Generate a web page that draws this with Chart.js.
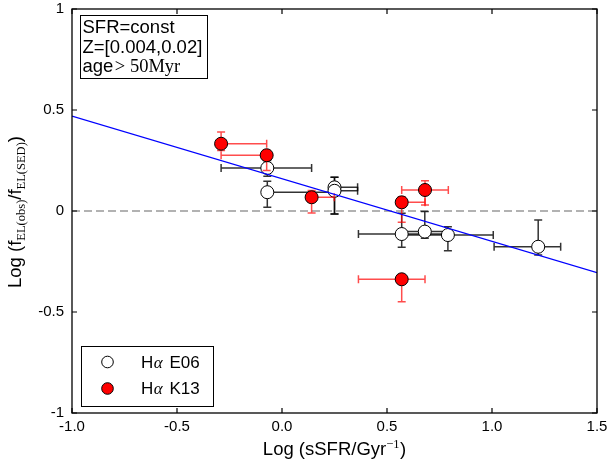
<!DOCTYPE html>
<html><head><meta charset="utf-8">
<script src="https://cdn.jsdelivr.net/npm/chart.js@4"></script>
<style>html,body{margin:0;padding:0;background:#fff}#wrap{width:609px;height:466px;position:relative}</style>
</head><body><div id="wrap"><canvas id="c"></canvas></div>
<script>
// Hα E06 (open circles)
const e06X   = [-0.07, -0.07, 0.25, 0.25, 0.57, 0.68, 0.79, 1.22];
const e06Y   = [0.213, 0.093, 0.117, 0.100, -0.114, -0.102, -0.119, -0.177];
const e06XLo = [-0.29, -0.07, 0.25, 0.25, 0.364, 0.57, 0.57, 1.01];
const e06XHi = [0.141, 0.25, 0.36, 0.36, 0.79, 0.79, 1.006, 1.327];
const e06YLo = [0.172, 0.018, -0.015, -0.015, -0.180, -0.135, -0.197, -0.218];
const e06YHi = [0.25, 0.147, 0.167, 0.167, -0.011, -0.003, -0.078, -0.045];
// Hα K13 (red filled circles)
const k13X   = [-0.29, -0.073, 0.141, 0.57, 0.681, 0.57];
const k13Y   = [0.333, 0.276, 0.068, 0.043, 0.104, -0.338];
const k13XLo = [-0.29, -0.29, 0.141, 0.57, 0.57, 0.364];
const k13XHi = [-0.073, -0.073, 0.249, 0.681, 0.792, 0.681];
const k13YLo = [0.30, 0.200, -0.010, -0.056, 0.030, -0.449];
const k13YHi = [0.391, 0.30, 0.102, 0.07, 0.150, -0.338];
// linear fit and reference line
const fitX  = [-1.0, 1.5];
const fitY  = [0.47, -0.305];
const zeroX = [-1.0, 1.5];
const zeroY = [0, 0];
// ticks
const xTickVals = [-1.0, -0.5, 0.0, 0.5, 1.0, 1.5];
const xTickLabels = ['-1.0', '-0.5', '0.0', '0.5', '1.0', '1.5'];
const yTickVals = [-1, -0.5, 0, 0.5, 1];
const yTickLabels = ['-1', '-0.5', '0', '0.5', '1'];
const boxLines = ['SFR=const', 'Z=[0.004,0.02]'];
const legendLabels = ['E06', 'K13'];

const SANS = "'Liberation Sans', Arial, sans-serif";
const SERIF = "'Liberation Serif', 'Times New Roman', serif";

function pts(xs, ys) { return xs.map((x, i) => ({x: x, y: ys[i]})); }

const errSets = [
  {xs: e06X, ys: e06Y, xlo: e06XLo, xhi: e06XHi, ylo: e06YLo, yhi: e06YHi, color: 'rgba(0,0,0,0.8)'},
  {xs: k13X, ys: k13Y, xlo: k13XLo, xhi: k13XHi, ylo: k13YLo, yhi: k13YHi, color: 'rgba(255,0,0,0.7)'}
];

function drawRuns(ctx, runs, x, y, align) {
  let total = 0;
  runs.forEach(r => { ctx.font = r.font; r.w = ctx.measureText(r.t).width; total += r.w + (r.gap || 0); });
  let cx = align === 'center' ? x - total / 2 : x;
  ctx.textBaseline = 'alphabetic';
  ctx.textAlign = 'left';
  runs.forEach(r => {
    ctx.font = r.font;
    ctx.fillText(r.t, cx, y + (r.dy || 0));
    cx += r.w + (r.gap || 0);
  });
}

const errPlugin = {
  id: 'errbars',
  beforeDatasetDraw(chart, args) {
    const ds = chart.data.datasets[args.index];
    if (ds.errIndex === undefined) return;
    const s = errSets[ds.errIndex];
    const xs = chart.scales.x, ys = chart.scales.y;
    const ctx = chart.ctx;
    ctx.save();
    ctx.strokeStyle = s.color;
    ctx.lineWidth = 1.5;
    const cap = 4;
    for (let i = 0; i < s.xs.length; i++) {
      const px = xs.getPixelForValue(s.xs[i]);
      const py = ys.getPixelForValue(s.ys[i]);
      const x0 = xs.getPixelForValue(s.xlo[i]);
      const x1 = xs.getPixelForValue(s.xhi[i]);
      const y0 = ys.getPixelForValue(s.ylo[i]);
      const y1 = ys.getPixelForValue(s.yhi[i]);
      ctx.beginPath();
      ctx.moveTo(x0, py); ctx.lineTo(x1, py);
      ctx.moveTo(px, y0); ctx.lineTo(px, y1);
      if (Math.abs(x0 - px) > 0.5) { ctx.moveTo(x0, py - cap); ctx.lineTo(x0, py + cap); }
      if (Math.abs(x1 - px) > 0.5) { ctx.moveTo(x1, py - cap); ctx.lineTo(x1, py + cap); }
      if (Math.abs(y0 - py) > 0.5) { ctx.moveTo(px - cap, y0); ctx.lineTo(px + cap, y0); }
      if (Math.abs(y1 - py) > 0.5) { ctx.moveTo(px - cap, y1); ctx.lineTo(px + cap, y1); }
      ctx.stroke();
    }
    ctx.restore();
  }
};

const decoPlugin = {
  id: 'deco',
  afterDraw(chart) {
    const ctx = chart.ctx;
    const a = chart.chartArea;
    const xs = chart.scales.x, ys = chart.scales.y;
    ctx.save();
    // frame
    ctx.strokeStyle = '#000';
    ctx.lineWidth = 1.3;
    ctx.strokeRect(a.left, a.top, a.right - a.left, a.bottom - a.top);
    // inward ticks
    ctx.lineWidth = 1.2;
    ctx.beginPath();
    xTickVals.forEach(v => {
      const p = xs.getPixelForValue(v);
      ctx.moveTo(p, a.bottom); ctx.lineTo(p, a.bottom - 5);
      ctx.moveTo(p, a.top); ctx.lineTo(p, a.top + 5);
    });
    yTickVals.forEach(v => {
      const p = ys.getPixelForValue(v);
      ctx.moveTo(a.left, p); ctx.lineTo(a.left + 5, p);
      ctx.moveTo(a.right, p); ctx.lineTo(a.right - 5, p);
    });
    ctx.stroke();

    ctx.fillStyle = '#000';
    // annotation box
    const bx = a.left + 8, by = a.top + 6;
    ctx.fillStyle = '#fff';
    ctx.fillRect(bx, by, 127, 63);
    ctx.strokeStyle = '#000';
    ctx.lineWidth = 1;
    ctx.strokeRect(bx + 0.5, by + 0.5, 127, 63);
    ctx.fillStyle = '#000';
    drawRuns(ctx, [{t: boxLines[0], font: '18.5px ' + SANS}], bx + 2.5, by + 17.5, 'left');
    drawRuns(ctx, [{t: boxLines[1], font: '18.5px ' + SANS}], bx + 2.5, by + 37.5, 'left');
    drawRuns(ctx, [{t: 'age', font: '18.5px ' + SANS, gap: 1.5}, {t: '> 50Myr', font: '18.5px ' + SERIF}], bx + 2.5, by + 56.5, 'left');

    // legend
    const lx = a.left + 9, ly = a.bottom - 67;
    ctx.fillStyle = '#fff';
    ctx.fillRect(lx, ly, 132, 60);
    ctx.strokeRect(lx + 0.5, ly + 0.5, 132, 60);
    const rows = [{fill: '#fff', y: ly + 16}, {fill: '#ff0000', y: ly + 42.5}];
    rows.forEach((r, i) => {
      ctx.beginPath();
      ctx.arc(lx + 26.5, r.y, 5.8, 0, Math.PI * 2);
      ctx.fillStyle = r.fill;
      ctx.fill();
      ctx.strokeStyle = '#000';
      ctx.lineWidth = 1;
      ctx.stroke();
      ctx.fillStyle = '#000';
      drawRuns(ctx, [
        {t: 'H', font: '17px ' + SANS, gap: 0.5},
        {t: 'α', font: 'italic 17px ' + SERIF, gap: 2},
        {t: ' ' + legendLabels[i], font: '17px ' + SANS}
      ], lx + 60, r.y + 5.8, 'left');
    });

    // x axis title
    drawRuns(ctx, [
      {t: 'Log (sSFR/Gyr', font: '18.5px ' + SANS},
      {t: '−1', font: '12.5px ' + SERIF, dy: -7.5, gap: 0.5},
      {t: ')', font: '18.5px ' + SANS}
    ], (a.left + a.right) / 2, 455, 'center');

    // y axis title
    ctx.translate(21, (a.top + a.bottom) / 2 + 1);
    ctx.rotate(-Math.PI / 2);
    drawRuns(ctx, [
      {t: 'Log (f', font: '18.5px ' + SANS},
      {t: 'EL(obs)', font: '12.5px ' + SERIF, dy: 4},
      {t: '/f', font: '18.5px ' + SANS},
      {t: 'EL(SED)', font: '12.5px ' + SERIF, dy: 4},
      {t: ')', font: '18.5px ' + SANS}
    ], 0, 0, 'center');
    ctx.restore();
  }
};

new Chart(document.getElementById('c'), {
  type: 'scatter',
  data: {
    datasets: [
      {label: 'zero', type: 'line', data: pts(zeroX, zeroY), borderColor: '#999999', borderWidth: 1.5,
        borderDash: [8, 4], pointRadius: 0, fill: false, order: 3},
      {label: 'Hα E06', data: pts(e06X, e06Y), errIndex: 0, backgroundColor: '#ffffff', borderColor: '#000000',
        borderWidth: 1, pointRadius: 6.5, pointHoverRadius: 6.5, order: 2},
      {label: 'Hα K13', data: pts(k13X, k13Y), errIndex: 1, backgroundColor: '#ff0000', borderColor: '#000000',
        borderWidth: 1, pointRadius: 6.5, pointHoverRadius: 6.5, order: 1},
      {label: 'fit', type: 'line', data: pts(fitX, fitY), borderColor: '#0000ff', borderWidth: 1.2,
        pointRadius: 0, fill: false, order: 0}
    ]
  },
  options: {
    responsive: true,
    maintainAspectRatio: false,
    animation: false,
    events: [],
    layout: {autoPadding: false, padding: {top: 9, right: 12, left: 0, bottom: 0}},
    plugins: {legend: {display: false}, tooltip: {enabled: false}},
    scales: {
      x: {
        type: 'linear', min: -1, max: 1.5,
        afterFit: s => { s.height = 53; s.paddingLeft = 0; s.paddingRight = 0; s.paddingTop = 0; s.paddingBottom = 0; },
        afterBuildTicks: s => { s.ticks = xTickVals.map(v => ({value: v})); },
        grid: {display: false, drawTicks: false},
        border: {display: false},
        ticks: {
          color: '#000', padding: 5, maxRotation: 0, autoSkip: false,
          font: {family: SANS, size: 15},
          callback: v => { const i = xTickVals.indexOf(v); return i >= 0 ? xTickLabels[i] : ''; }
        }
      },
      y: {
        type: 'linear', min: -1, max: 1,
        afterFit: s => { s.width = 72; s.paddingLeft = 0; s.paddingRight = 0; s.paddingTop = 0; s.paddingBottom = 0; },
        afterBuildTicks: s => { s.ticks = yTickVals.map(v => ({value: v})); },
        grid: {display: false, drawTicks: false},
        border: {display: false},
        ticks: {
          color: '#000', padding: 8, autoSkip: false,
          font: {family: SANS, size: 15},
          callback: v => { const i = yTickVals.indexOf(v); return i >= 0 ? yTickLabels[i] : ''; }
        }
      }
    }
  },
  plugins: [errPlugin, decoPlugin]
});
</script>
</body></html>
